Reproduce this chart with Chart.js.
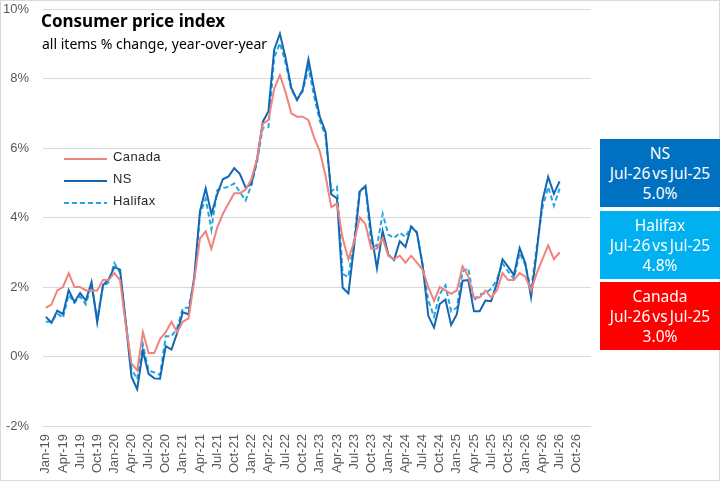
<!DOCTYPE html>
<html>
<head>
<meta charset="utf-8">
<script src="https://cdn.jsdelivr.net/npm/chart.js@4"></script>
<style>
  body { margin: 0; background: #fff; }
  #wrap { position: relative; width: 720px; height: 481px; box-sizing: border-box; border: 1px solid #d9d9d9; }
  #cpiChart { position: absolute; left: 0; top: 0; }
  .title { position: absolute; left: 40px; top: 8px; font: bold 17px "Noto Sans", sans-serif; color: #000; }
  .sub { position: absolute; left: 41px; top: 33px; font: 14px "Noto Sans", sans-serif; color: #000; }
  .leg { position: absolute; left: 63px; font: 13px "Liberation Sans", Arial, sans-serif; color: #262626; letter-spacing: 0.4px; }
  .leg svg { position: absolute; left: 0; top: 0; }
  .leg span { position: absolute; left: 49px; top: -8px; white-space: nowrap; }
  .box { position: absolute; left: 599px; width: 120px; height: 68px; color: #fff; text-align: center;
         font: 15.5px "Noto Sans", sans-serif; line-height: 20px; padding-top: 4px; box-sizing: border-box;
         word-spacing: -2px; }
</style>
</head>
<body>
<div id="wrap">
  <canvas id="cpiChart" width="718" height="479"></canvas>
  <div class="title">Consumer price index</div>
  <div class="sub">all items % change, year-over-year</div>
  <div id="legend"></div>
  <div id="boxes"></div>
</div>
<script>
const monthNames = ['Jan', 'Feb', 'Mar', 'Apr', 'May', 'Jun', 'Jul', 'Aug', 'Sep', 'Oct', 'Nov', 'Dec'];
const years = ['19', '20', '21', '22', '23', '24', '25', '26'];

const canada = [
  1.4, 1.5, 1.9, 2.0, 2.4, 2.0, 2.0, 1.9, 1.9, 1.9, 2.2, 2.2,
  2.4, 2.2, 0.9, -0.2, -0.4, 0.7, 0.1, 0.1, 0.5, 0.7, 1.0, 0.7,
  1.0, 1.1, 2.2, 3.4, 3.6, 3.1, 3.7, 4.1, 4.4, 4.7, 4.7, 4.8,
  5.1, 5.7, 6.7, 6.8, 7.7, 8.1, 7.6, 7.0, 6.9, 6.9, 6.8, 6.3,
  5.9, 5.2, 4.3, 4.4, 3.4, 2.8, 3.3, 4.0, 3.8, 3.1, 3.1, 3.4,
  2.9, 2.8, 2.9, 2.7, 2.9, 2.7, 2.5, 2.0, 1.6, 2.0, 1.9, 1.8,
  1.9, 2.6, 2.3, 1.7, 1.7, 1.9, 1.7, 1.9, 2.4, 2.2, 2.2, 2.4,
  2.3, 1.9, 2.4, 2.8, 3.2, 2.8, 3.0
];

const ns = [
  1.14, 0.97, 1.32, 1.22, 1.91, 1.57, 1.83, 1.61, 2.14, 0.98, 2.05, 2.22,
  2.57, 2.5, 0.98, -0.58, -0.94, 0.16, -0.5, -0.63, -0.64, 0.3, 0.2, 0.68,
  1.28, 1.21, 2.3, 4.18, 4.84, 4.1, 4.66, 5.1, 5.18, 5.42, 5.25, 4.86,
  4.96, 5.68, 6.75, 7.06, 8.83, 9.29, 8.59, 7.73, 7.38, 7.68, 8.55, 7.68,
  6.9, 6.46, 4.67, 4.55, 1.98, 1.82, 3.17, 4.75, 4.91, 3.56, 2.54, 3.61,
  2.93, 2.78, 3.32, 3.15, 3.74, 3.56, 2.63, 1.17, 0.83, 1.51, 1.64, 0.91,
  1.22, 2.18, 2.2, 1.3, 1.3, 1.61, 1.59, 2.1, 2.8, 2.58, 2.34, 3.12,
  2.68, 1.71, 3.02, 4.49, 5.17, 4.68, 5.04
];

const halifax = [
  1.0, 1.0, 1.24, 1.11, 1.78, 1.54, 1.73, 1.5, 2.07, 1.07, 2.02, 2.13,
  2.69, 2.4, 1.0, -0.36, -0.65, 0.35, -0.41, -0.46, -0.53, 0.58, 0.58, 0.82,
  1.4, 1.4, 2.2, 4.1, 4.54, 3.66, 4.78, 4.85, 4.88, 4.98, 4.73, 4.49,
  4.93, 5.6, 6.58, 6.6, 8.6, 9.02, 8.45, 7.68, 7.4, 7.63, 8.3, 7.49,
  6.78, 6.35, 4.75, 4.88, 2.37, 2.29, 3.37, 4.81, 4.85, 3.27, 3.17, 4.1,
  3.51, 3.41, 3.56, 3.44, 3.74, 3.58, 2.63, 1.61, 1.15, 1.8, 2.05, 1.3,
  1.41, 2.44, 2.54, 1.61, 1.79, 1.82, 1.95, 2.2, 2.68, 2.44, 2.24, 2.98,
  2.63, 1.9, 3.17, 4.29, 4.88, 4.34, 4.83
];

const yTicks = [-2, 0, 2, 4, 6, 8, 10];

// categories Jan-19 .. Dec-26
const labels = [];
years.forEach(y => monthNames.forEach(m => labels.push(m + '-' + y)));

const series = [
  { name: 'Canada', data: canada, color: '#F0837D', dash: [], box: '#FF0000' },
  { name: 'NS', data: ns, color: '#1467B3', dash: [], box: '#0070C0' },
  { name: 'Halifax', data: halifax, color: '#22A6E4', dash: [5, 3], box: '#00B0F0' }
];

const ctx = document.getElementById('cpiChart');

new Chart(ctx, {
  type: 'line',
  data: {
    labels: labels,
    datasets: series.map(s => ({
      label: s.name,
      data: s.data,
      borderColor: s.color,
      borderWidth: 2,
      borderDash: s.dash,
      pointRadius: 0,
      tension: 0,
      fill: false
    }))
  },
  options: {
    responsive: false,
    animation: false,
    layout: { padding: { top: 8, right: 128, left: 0, bottom: 0 } },
    plugins: { legend: { display: false }, tooltip: { enabled: false } },
    scales: {
      x: {
        offset: true,
        grid: { display: false, drawTicks: false },
        border: { display: false },
        afterFit: scale => { scale.height = 54; },
        ticks: {
          autoSkip: false,
          minRotation: 90,
          maxRotation: 90,
          padding: 8,
          color: '#595959',
          font: { family: 'Liberation Sans', size: 13 },
          callback: function (val, i) { return i % 3 === 0 ? labels[i] : ''; }
        }
      },
      y: {
        min: yTicks[0],
        max: yTicks[yTicks.length - 1],
        grid: { color: '#d9d9d9', drawTicks: false },
        border: { display: false },
        afterFit: scale => {
          scale.width = 42;
          scale.paddingTop = 0;
          scale.paddingBottom = 0;
        },
        afterBuildTicks: scale => { scale.ticks = yTicks.map(v => ({ value: v })); },
        ticks: {
          padding: 14,
          color: '#595959',
          font: { family: 'Liberation Sans', size: 13 },
          callback: v => v + '%'
        }
      }
    }
  }
});

// legend
const legend = document.getElementById('legend');
const legY = [157, 179, 201];
series.forEach((s, i) => {
  const d = document.createElement('div');
  d.className = 'leg';
  d.style.top = (legY[i] - 1) + 'px';
  d.innerHTML = `<svg width="44" height="4"><line x1="0" y1="2" x2="43" y2="2" stroke="${s.color}" stroke-width="2"
    stroke-dasharray="${s.dash.join(',')}"/></svg><span>${s.name}</span>`;
  legend.appendChild(d);
});

// summary boxes, last month vs same month a year earlier
const boxes = document.getElementById('boxes');
const last = canada.length - 1;
const order = [1, 2, 0];
const boxTop = [138, 210, 281];
order.forEach((k, j) => {
  const s = series[k];
  const b = document.createElement('div');
  b.className = 'box';
  b.style.top = boxTop[j] + 'px';
  b.style.background = s.box;
  b.innerHTML = `${s.name}<br>${labels[last]} vs ${labels[last - 12]}<br>${s.data[last].toFixed(1)}%`;
  boxes.appendChild(b);
});
</script>
</body>
</html>
